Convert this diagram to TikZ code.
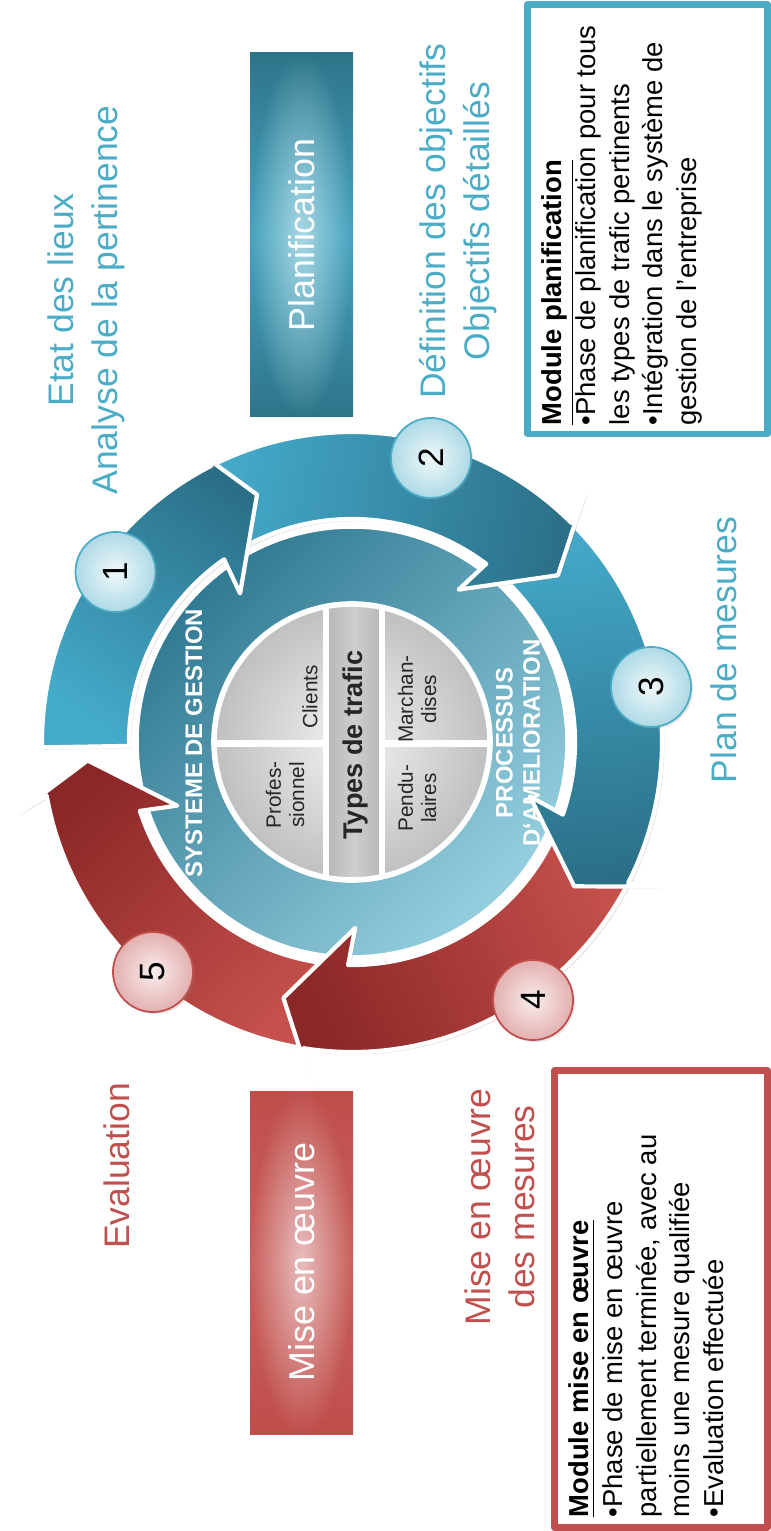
\documentclass[tikz,border=0pt]{standalone}
\usepackage{fontspec}
\setmainfont{Liberation Sans}
\usetikzlibrary{shadows,fadings}

\definecolor{aqua}{HTML}{4BACC6}
\definecolor{brick}{HTML}{C0504D}
\definecolor{aqualight}{HTML}{44AACA}
\definecolor{aquadark}{HTML}{2B6F87}
\definecolor{bricklight}{HTML}{C5504C}
\definecolor{brickdark}{HTML}{8A2727}
\definecolor{ringdark}{HTML}{317A93}
\definecolor{ringlight}{HTML}{95CFDF}
\definecolor{plandark}{HTML}{2E7489}
\definecolor{planmid}{HTML}{46A3BE}
\definecolor{planglow}{HTML}{A6D6E3}
\definecolor{misedark}{HTML}{BF4E4B}
\definecolor{misemid}{HTML}{C85F5C}
\definecolor{miseglow}{HTML}{E8BDBC}

\tikzfading[name=glow, inner color=transparent!0, outer color=transparent!100]

\tikzset{
  ringarrow/.style={draw=white, line width=1.2pt, line join=round,
    drop shadow={shadow xshift=0.7pt, shadow yshift=-0.7pt, opacity=0.2, draw=none}},
  bluearrow/.style={ringarrow, bottom color=aqualight, top color=aquadark},
  redarrow/.style={ringarrow, bottom color=bricklight, top color=brickdark},
  innerring/.style={draw=white, line width=1pt, top color=ringdark, bottom color=ringlight, shading angle=45},
  graydisk/.style={inner color=gray!10, outer color=gray!50},
  band/.style={left color=gray!55, right color=gray!55, middle color=gray!38},
  sepline/.style={white, line width=1.8pt},
  planfill/.style={top color=plandark, bottom color=plandark, middle color=planmid},
  misefill/.style={top color=misedark, bottom color=misedark, middle color=misemid},
  stepnum/.style={circle, minimum size=0.8cm, inner sep=0pt, rotate=90, line width=0.5pt,
    font={\fontsize{10}{12}\selectfont},
    drop shadow={shadow xshift=0.6pt, shadow yshift=-0.6pt, opacity=0.2, draw=none}},
  numblue/.style={stepnum, draw=aqua, inner color=white!92!aqua, outer color=aqua!45},
  numred/.style={stepnum, draw=brick, inner color=white!90!brick, outer color=brick!45},
  tlabel/.style={rotate=90, align=center, inner sep=0pt, text=aqua, font={\fontsize{10.1}{12.5}\selectfont}},
  rlabel/.style={tlabel, text=brick},
  boxtext/.style={rotate=90, inner sep=0pt, text=white, font={\fontsize{10.2}{12}\selectfont}},
  graylbl/.style={rotate=90, align=center, inner sep=0pt, text=black!85, font={\fontsize{5.9}{6.6}\selectfont}},
  ringlbl/.style={rotate=90, align=center, inner sep=0pt, text=white, font={\fontsize{6.8}{7.7}\selectfont\bfseries}},
  modframe/.style={line width=1.85pt},
  modtext/.style={rotate=90, align=left, inner sep=0pt, anchor=north west, font={\fontsize{7.8}{9.6}\selectfont}}
}

\begin{document}
\begin{tikzpicture}[x=0.01cm, y=0.01cm, line join=round]
\useasboundingbox (0,0) rectangle (771,-1531);

% phase boxes
\path[planfill] (250,-53) rectangle (353,-417);
\fill[planglow, path fading=glow] (250,-53) rectangle (353,-417);
\node[boxtext] (planif) at (301.5,-235) {Planification};
\path[misefill] (250,-1091) rectangle (353,-1434);
\fill[miseglow, path fading=glow] (250,-1091) rectangle (353,-1434);
\node[boxtext] (mise) at (301.5,-1262) {Mise en œuvre};

% cycle
\begin{scope}[shift={(352,-742)}]
\path[innerring] (0,0) circle[radius=215];
\begin{scope}
  \clip (0,0) circle[radius=138];
  \path[graydisk] (0,0) circle[radius=138];
  \path[band] (-23,-140) rectangle (27,140);
  \draw[sepline] (-26,-140) -- (-26,140);
  \draw[sepline] (30,-140) -- (30,140);
  \draw[sepline] (-140,-1.5) -- (-26,-1.5);
  \draw[sepline] (30,-1.5) -- (140,-1.5);
\end{scope}
\draw[white, line width=1.6pt] (0,0) circle[radius=138];
\node[graylbl] (clients) at (-42,45) {Clients};
\node[graylbl] (profes) at (-67,-53) {Profes-\\sionnel};
\node[graylbl, font={\fontsize{7.7}{9}\selectfont\bfseries}] (types) at (3,-3) {Types de trafic};
\node[graylbl] (marchan) at (65,43) {Marchan-\\dises};
\node[graylbl] (pendu) at (65,-56) {Pendu-\\laires};
\node[ringlbl] (gestion) at (-158,-1) {SYSTEME DE GESTION};
\node[ringlbl] (processus) at (166,-1) {PROCESSUS\\D‘AMELIORATION};

\path[redarrow, shading angle=43.5]
  (-98:310) arc[start angle=-98, end angle=-170, radius=310] -- (-168:342) -- (-176:265)
  -- (-160:186) -- (-162:223) arc[start angle=-162, end angle=-93, radius=223] -- cycle;
\path[redarrow, shading angle=115.5]
  (-26:310) arc[start angle=-26, end angle=-99, radius=310] -- (-97:342) -- (-105:265)
  -- (-89:186) -- (-91:223) arc[start angle=-91, end angle=-21, radius=223] -- cycle;
\path[bluearrow, shading angle=-172.5]
  (46:310) arc[start angle=46, end angle=-27, radius=310] -- (-25:342) -- (-33:265)
  -- (-17:186) -- (-19:223) arc[start angle=-19, end angle=51, radius=223] -- cycle;
\path[bluearrow, shading angle=-100.5]
  (118:310) arc[start angle=118, end angle=45, radius=310] -- (47:342) -- (39:265)
  -- (55:186) -- (53:223) arc[start angle=53, end angle=123, radius=223] -- cycle;
\path[bluearrow, shading angle=-34]
  (181:310) arc[start angle=181, end angle=117, radius=310] -- (119:342) -- (111:265)
  -- (127:186) -- (125:223) arc[start angle=125, end angle=181, radius=223] -- cycle;
\end{scope}

% step numbers
\node[numblue] (n1) at (115.5,-572) {1};
\node[numblue] (n2) at (431,-458) {2};
\node[numblue] (n3) at (651,-687) {3};
\node[numred] (n4) at (533,-1000) {4};
\node[numred] (n5) at (153,-972) {5};

% step labels
\node[tlabel] (etat) at (86,-300) {Etat des lieux\\Analyse de la pertinence};
\node[tlabel] (objectifs) at (458,-221) {Définition des objectifs\\Objectifs détaillés};
\node[tlabel] (mesures) at (724,-650) {Plan de mesures};
\node[rlabel] (evaluation) at (117,-1166) {Evaluation};
\node[rlabel] (miseoeuvre) at (500,-1207) {Mise en œuvre\\des mesures};

% modules
\draw[modframe, draw=aqua] (527.5,-4.5) rectangle (767.5,-434);
\node[modtext] (modplan) at (541,-426) {\underline{\textbf{Module planification}}\\
  •Phase de planification pour tous\\les types de trafic pertinents\\
  •Intégration dans le système de\\gestion de l’entreprise};
\draw[modframe, draw=brick] (554.5,-1070.5) rectangle (767.5,-1527.5);
\node[modtext] (modmise) at (568,-1518) {\underline{\textbf{Module mise en œuvre}}\\
  •Phase de mise en œuvre\\partiellement terminée, avec au\\
  moins une mesure qualifiée\\•Evaluation effectuée};
\end{tikzpicture}
\end{document}
